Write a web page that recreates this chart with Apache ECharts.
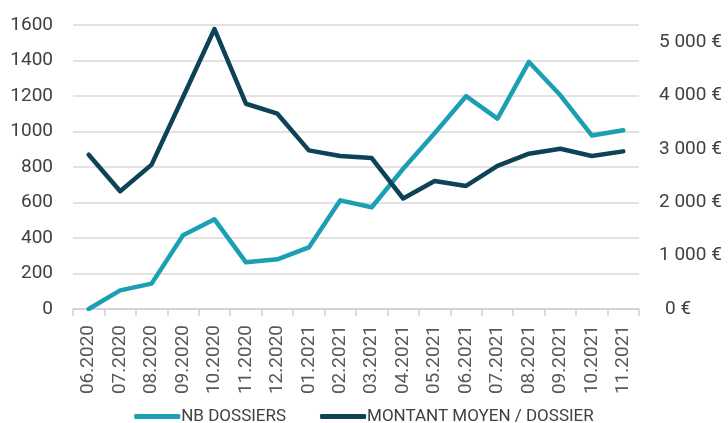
<!DOCTYPE html>
<html>
<head>
<meta charset="utf-8">
<script src="https://cdn.jsdelivr.net/npm/echarts@6/dist/echarts.min.js"></script>
<style>
  html, body { margin: 0; padding: 0; background: #fff; }
  #chart { width: 728px; height: 423px; }
</style>
</head>
<body>
<div id="chart"></div>
<script>
// Monthly categories
const months = ['06.2020', '07.2020', '08.2020', '09.2020', '10.2020', '11.2020', '12.2020',
  '01.2021', '02.2021', '03.2021', '04.2021', '05.2021', '06.2021', '07.2021',
  '08.2021', '09.2021', '10.2021', '11.2021'];

// Number of files per month (left axis)
const nbDossiers = [0, 105, 143, 415, 505, 263, 280, 347, 612, 573, 790, 990, 1199, 1073, 1392, 1204, 978, 1007];

// Average amount per file in euros (right axis)
const montantMoyen = [2890, 2205, 2705, 3970, 5245, 3845, 3658, 2972, 2866, 2828, 2070, 2398, 2305, 2680, 2910, 3003, 2866, 2953];

// Axis ticks
const leftTicks = { min: 0, max: 1600, interval: 200 };
const rightTicks = { min: 0, max: 5320, interval: 1000 };

const seriesNames = ['NB DOSSIERS', 'MONTANT MOYEN / DOSSIER'];

const TEAL = '#1a9fb3';
const NAVY = '#0d4257';
const labelFont = '"Roboto", sans-serif';

const chart = echarts.init(document.getElementById('chart'), null, { renderer: 'canvas' });

chart.setOption({
  animation: false,
  backgroundColor: '#ffffff',
  grid: { left: 73, right: 89, top: 25, bottom: 114 },
  legend: {
    top: 403,
    left: 'center',
    itemWidth: 46,
    itemHeight: 5,
    itemGap: 34,
    icon: 'roundRect',
    textStyle: { fontFamily: labelFont, fontSize: 17, color: '#404040', padding: [0, 0, 0, -4] },
    data: seriesNames
  },
  xAxis: {
    type: 'category',
    data: months,
    boundaryGap: true,
    axisLine: { lineStyle: { color: '#d0d0d0', width: 1.5 } },
    axisTick: { show: true, alignWithLabel: false, length: 7, lineStyle: { color: '#d0d0d0', width: 1.5 } },
    axisLabel: {
      rotate: 90,
      margin: 16,
      interval: 0,
      fontFamily: labelFont,
      fontSize: 19,
      color: '#595959'
    }
  },
  yAxis: [
    {
      type: 'value',
      min: leftTicks.min,
      max: leftTicks.max,
      interval: leftTicks.interval,
      axisLine: { show: false },
      axisTick: { show: false },
      splitLine: { lineStyle: { color: '#d9d9d9', width: 1.5 } },
      axisLabel: {
        margin: 20, fontFamily: labelFont, fontSize: 19, color: '#404040',
        formatter: function (v) { return String(v); }
      }
    },
    {
      type: 'value',
      position: 'right',
      min: rightTicks.min,
      max: rightTicks.max,
      interval: rightTicks.interval,
      axisLine: { show: false },
      axisTick: { show: false },
      splitLine: { show: false },
      axisLabel: {
        margin: 20,
        showMaxLabel: false,
        fontFamily: labelFont,
        fontSize: 19,
        color: '#404040',
        formatter: function (v) {
          if (v === 0) return '{z|0 €}';
          return (v / 1000) + ' 000 €';
        },
        rich: { z: { fontFamily: labelFont, fontSize: 19, color: '#404040', padding: [0, 0, 0, 6] } }
      }
    }
  ],
  series: [
    {
      name: seriesNames[0],
      type: 'line',
      yAxisIndex: 0,
      data: nbDossiers,
      symbol: 'none',
      lineStyle: { color: TEAL, width: 4.5, cap: 'round', join: 'round' },
      itemStyle: { color: TEAL }
    },
    {
      name: seriesNames[1],
      type: 'line',
      yAxisIndex: 1,
      data: montantMoyen,
      symbol: 'none',
      lineStyle: { color: NAVY, width: 4.5, cap: 'round', join: 'round' },
      itemStyle: { color: NAVY }
    }
  ]
});
</script>
</body>
</html>
